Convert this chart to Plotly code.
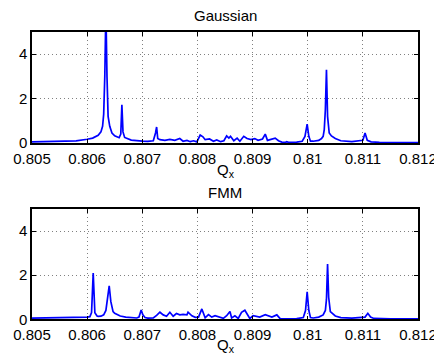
import plotly.graph_objects as go

# Gaussian spectrum (top panel)
gauss_q = [0.8050, 0.8053, 0.8056, 0.8058, 0.8060, 0.8061, 0.8062, 0.80625, 0.80628, 0.80630,
           0.80632, 0.80634, 0.80636, 0.80638, 0.80641, 0.80645, 0.8065, 0.80655, 0.80658, 0.80661,
           0.80663, 0.80665, 0.80668, 0.8068, 0.8069, 0.8070, 0.8071, 0.80720, 0.80724, 0.80726,
           0.80728, 0.80732, 0.80741, 0.80750, 0.80759, 0.80768, 0.80774, 0.80781, 0.80787, 0.80793,
           0.80799, 0.80805, 0.80810, 0.80814, 0.80822, 0.80829, 0.80835, 0.80842, 0.80848, 0.80853,
           0.80857, 0.80860, 0.80866, 0.80872, 0.80877, 0.80884, 0.80890, 0.80897, 0.80904, 0.80910,
           0.80918, 0.80923, 0.80927, 0.80933, 0.80941, 0.80947, 0.80953, 0.8096, 0.80962, 0.80965,
           0.8097, 0.8098, 0.80990, 0.80995, 0.80999, 0.81002, 0.81005, 0.8101, 0.8102, 0.81025,
           0.81028, 0.8103, 0.81032, 0.81034, 0.81036, 0.81039, 0.81043, 0.8105, 0.8106, 0.8108,
           0.81100, 0.81104, 0.81108, 0.81115, 0.8113, 0.8116, 0.8120]
gauss_p = [0.05, 0.06, 0.08, 0.10, 0.17, 0.22, 0.35, 0.50, 0.75, 1.3,
           3.0, 6.0, 3.0, 1.2, 0.75, 0.45, 0.32, 0.27, 0.24, 0.4,
           1.72, 0.5, 0.25, 0.13, 0.09, 0.08, 0.07, 0.10, 0.45, 0.72,
           0.20, 0.15, 0.12, 0.16, 0.12, 0.20, 0.08, 0.12, 0.06, 0.10,
           0.05, 0.36, 0.28, 0.15, 0.18, 0.08, 0.14, 0.06, 0.10, 0.32,
           0.22, 0.30, 0.10, 0.22, 0.08, 0.30, 0.20, 0.15, 0.20, 0.12,
           0.18, 0.40, 0.12, 0.15, 0.22, 0.10, 0.04, 0.03, 0.06, 0.03,
           0.03, 0.04, 0.08, 0.30, 0.85, 0.30, 0.08, 0.08, 0.12, 0.20,
           0.30, 0.60, 1.5, 3.3, 1.2, 0.45, 0.32, 0.20, 0.10, 0.06,
           0.12, 0.45, 0.12, 0.05, 0.03, 0.02, 0.02]

# FMM spectrum (bottom panel)
fmm_q = [0.8050, 0.8055, 0.8059, 0.8060, 0.80605, 0.80608, 0.80611, 0.80614, 0.80618, 0.8062,
         0.80625, 0.80630, 0.80634, 0.80637, 0.80640, 0.80643, 0.80647, 0.8065, 0.80655, 0.8066,
         0.8067, 0.8068, 0.8069, 0.80694, 0.80698, 0.80701, 0.80705, 0.8071, 0.80714, 0.80720,
         0.80726, 0.80732, 0.80738, 0.80744, 0.80750, 0.80756, 0.80762, 0.80768, 0.80774, 0.80781,
         0.80783, 0.80790, 0.80796, 0.80802, 0.80808, 0.80814, 0.80820, 0.80826, 0.80832, 0.80841,
         0.80847, 0.80853, 0.80859, 0.80862, 0.80868, 0.80874, 0.80880, 0.80886, 0.80892, 0.80895,
         0.80901, 0.80908, 0.80913, 0.80923, 0.80935, 0.80944, 0.80950, 0.8096, 0.8098, 0.80992,
         0.80996, 0.80999, 0.81002, 0.81005, 0.8101, 0.8102, 0.81028, 0.81032, 0.81034, 0.81036,
         0.81038, 0.81041, 0.81045, 0.8105, 0.8106, 0.8108, 0.81104, 0.81109, 0.81114, 0.8112,
         0.8115, 0.8120]
fmm_p = [0.05, 0.06, 0.08, 0.10, 0.12, 0.30, 2.1, 0.30, 0.15, 0.13,
         0.14, 0.20, 0.40, 0.90, 1.52, 0.80, 0.35, 0.27, 0.20, 0.15,
         0.10, 0.07, 0.06, 0.10, 0.42, 0.20, 0.08, 0.05, 0.05, 0.06,
         0.18, 0.32, 0.20, 0.14, 0.32, 0.14, 0.26, 0.20, 0.22, 0.20,
         0.32, 0.16, 0.09, 0.10, 0.47, 0.07, 0.21, 0.10, 0.16, 0.10,
         0.04, 0.16, 0.35, 0.06, 0.16, 0.04, 0.32, 0.41, 0.18, 0.04,
         0.16, 0.12, 0.10, 0.21, 0.10, 0.20, 0.03, 0.02, 0.03, 0.08,
         0.40, 1.25, 0.40, 0.08, 0.06, 0.10, 0.20, 0.40, 0.90, 2.5,
         1.0, 0.35, 0.27, 0.15, 0.08, 0.05, 0.10, 0.27, 0.10, 0.04,
         0.02, 0.02]

x_tick_vals = [0.805, 0.806, 0.807, 0.808, 0.809, 0.810, 0.811, 0.812]
x_tick_text = ["0.805", "0.806", "0.807", "0.808", "0.809", "0.81", "0.811", "0.812"]
y_tick_vals = [0, 2, 4]
titles = ["Gaussian", "FMM"]
x_label = "Q<sub>x</sub>"

FONT = "Liberation Sans, Arial, Helvetica, sans-serif"
OFF = 8  # page body margin
W, H = 442 - OFF, 355 - OFF

def px_x(p):
    return (p - OFF) / W

def px_y(p):
    return 1 - (p - OFF) / H

fig = go.Figure()
fig.add_trace(go.Scatter(x=gauss_q, y=gauss_p, mode="lines",
                         line=dict(color="#0000FF", width=1.7), xaxis="x", yaxis="y",
                         showlegend=False))
fig.add_trace(go.Scatter(x=fmm_q, y=fmm_p, mode="lines",
                         line=dict(color="#0000FF", width=1.7), xaxis="x2", yaxis="y2",
                         showlegend=False))

xdom = [px_x(32), px_x(418)]
ydom_top = [px_y(143), px_y(32)]
ydom_bot = [px_y(319.3), px_y(209)]

common = dict(ticks="inside", ticklen=4, tickcolor="black", tickwidth=1, mirror="ticks",
              showline=True, linecolor="black", linewidth=1.5, showgrid=True,
              gridcolor="#808080", griddash="1px,3px", gridwidth=1, zeroline=False,
              automargin=False, tickfont=dict(family=FONT, size=15, color="black"))

def xax(anchor):
    return dict(domain=xdom, range=[0.805, 0.812], anchor=anchor,
                tickvals=x_tick_vals, ticktext=x_tick_text, ticklabelstandoff=1, **common)

def yax(dom, anchor):
    return dict(domain=dom, range=[0, 5], anchor=anchor, tickvals=y_tick_vals, **common)

def ann(text, xp, yp, ya="middle"):
    return dict(text=text, x=px_x(xp), y=px_y(yp), xref="paper", yref="paper",
                xanchor="center", yanchor=ya, showarrow=False,
                font=dict(family=FONT, size=15, color="black"))

annotations = [
    ann(titles[0], 225, 15),
    ann(titles[1], 225, 192),
    ann(x_label, 226, 159, "top"),
    ann(x_label, 226, 334, "top"),
]

fig.update_layout(
    width=W, height=H,
    margin=dict(l=0, r=0, t=0, b=0, autoexpand=False),
    paper_bgcolor="white", plot_bgcolor="white",
    xaxis=xax("y"), yaxis=yax(ydom_top, "x"),
    xaxis2=xax("y2"), yaxis2=yax(ydom_bot, "x2"),
    annotations=annotations,
)

fig.write_html("out.html")
